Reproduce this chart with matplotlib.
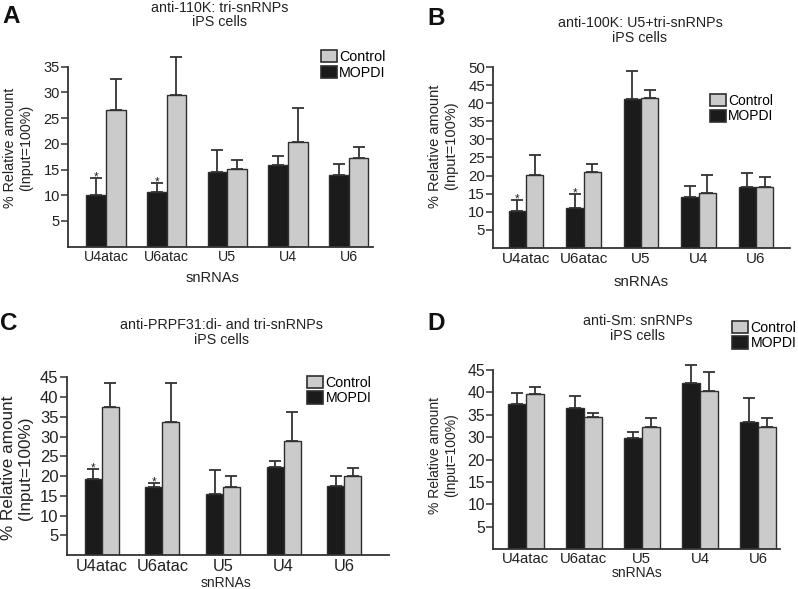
import numpy as np
import matplotlib
matplotlib.use("Agg")
import matplotlib.pyplot as plt
from matplotlib.patches import Patch

plt.rcParams['font.family'] = ['Liberation Sans', 'DejaVu Sans']

W, H = 798, 589

snrnas = ["U4atac", "U6atac", "U5", "U4", "U6"]

# A: anti-110K (values, then top of error bar)
a_mopdi = [10.0, 10.6, 14.6, 15.8, 13.9]
a_mopdi_top = [13.3, 12.3, 18.8, 17.7, 16.1]
a_control = [26.6, 29.5, 15.1, 20.3, 17.3]
a_control_top = [32.7, 36.9, 16.9, 26.9, 19.4]

# B: anti-100K
b_mopdi = [10.1, 11.0, 41.2, 14.1, 16.8]
b_mopdi_top = [13.1, 14.9, 48.9, 17.0, 20.8]
b_control = [20.2, 21.0, 41.4, 15.2, 16.8]
b_control_top = [25.6, 23.3, 43.8, 20.2, 19.7]

# C: anti-PRPF31
c_mopdi = [19.3, 17.1, 15.5, 22.3, 17.5]
c_mopdi_top = [21.7, 18.2, 21.5, 23.9, 20.0]
c_control = [37.6, 33.6, 17.1, 28.9, 20.0]
c_control_top = [43.6, 43.6, 20.0, 36.1, 22.1]

# D: anti-Sm (axis in the original has no 25 label)
d_mopdi = [37.5, 36.6, 29.9, 42.1, 33.5]
d_mopdi_top = [39.9, 39.1, 31.2, 46.1, 38.7]
d_control = [39.6, 34.6, 32.2, 40.4, 32.3]
d_control_top = [41.1, 35.4, 34.2, 44.6, 34.2]

significant = [0, 1]   # U4atac, U6atac marked with *

BLACK = "#1b1b1b"
GREY = "#cbcbcb"
EDGE = "#2e2e2e"
INK = "#333333"
TXT = "#222222"

fig = plt.figure(figsize=(W / 100, H / 100), dpi=100)


def rect(left, right, top, bottom):
    return [left / W, 1 - bottom / H, (right - left) / W, (bottom - top) / H]


def fx(x):
    return x / W


def fy(y):
    return 1 - y / H


def broken_fwd(v):
    v = np.asarray(v, dtype=float)
    return np.where(v <= 20, v, np.where(v < 25, 20, v - 5))


def broken_inv(p):
    p = np.asarray(p, dtype=float)
    return np.where(p <= 20, p, p + 5)


def panel(box, xlim, w, mopdi, mopdi_top, control, control_top, ymax, yticks,
          stars, legend_at, xtick_size, ytick_size, xpad, leg_size, broken=False):
    ax = fig.add_axes(rect(*box))
    x = np.arange(len(snrnas))
    if broken:
        ax.set_yscale('function', functions=(broken_fwd, broken_inv))
    ax.bar(x - w / 2, mopdi, w, color=BLACK, edgecolor=EDGE, linewidth=1, zorder=2)
    ax.bar(x + w / 2, control, w, color=GREY, edgecolor=EDGE, linewidth=1, zorder=2)
    for xs, vals, tops in [(x - w / 2, mopdi, mopdi_top), (x + w / 2, control, control_top)]:
        vals = np.array(vals)
        up = np.array(tops) - vals
        eb = ax.errorbar(xs, vals, yerr=[np.zeros_like(vals), up], fmt='none',
                         ecolor=INK, elinewidth=1.3, capsize=4.2, capthick=1.3, zorder=3)
        for art in eb.get_children():
            art.set_clip_on(False)
    if stars:
        for i in significant:
            ax.annotate("*", (x[i] - w / 2, mopdi_top[i]), xytext=(0, -1.5),
                        textcoords='offset points', ha='center', va='baseline',
                        fontsize=8.5, color=TXT, annotation_clip=False)
    ax.set_xlim(*xlim)
    ax.set_ylim(0, ymax)
    ax.set_yticks(yticks)
    ax.set_yticklabels([str(t) for t in yticks])
    ax.set_xticks(x)
    ax.set_xticklabels(snrnas)
    for s in ['top', 'right']:
        ax.spines[s].set_visible(False)
    for s in ['left', 'bottom']:
        ax.spines[s].set_color(INK)
        ax.spines[s].set_linewidth(1.3)
    ax.tick_params(axis='y', length=5, width=1.1, pad=1, colors=INK,
                   labelsize=ytick_size, labelcolor=TXT)
    ax.tick_params(axis='x', length=0, pad=xpad, labelsize=xtick_size,
                   labelcolor=TXT)
    handles = [Patch(facecolor=GREY, edgecolor=EDGE, linewidth=1.2),
               Patch(facecolor=BLACK, edgecolor=EDGE, linewidth=1.2)]
    ax.legend(handles, ["Control", "MOPDI"], loc='upper left',
              bbox_to_anchor=(fx(legend_at[0]), fy(legend_at[1])),
              bbox_transform=fig.transFigure, frameon=False, fontsize=leg_size,
              borderpad=0, borderaxespad=0, handlelength=1.15, handleheight=0.95,
              handletextpad=0.15, labelspacing=0.1)
    return ax


panel((68.3, 373, 66.7, 246.7), (-0.62, 4.4), 0.325,
      a_mopdi, a_mopdi_top, a_control, a_control_top,
      35, [5, 10, 15, 20, 25, 30, 35], True, (320.7, 50),
      xtick_size=10.2, ytick_size=10.5, xpad=2.7, leg_size=10.3)
panel((493.3, 790, 67.3, 247.7), (-0.57, 4.59), 0.30,
      b_mopdi, b_mopdi_top, b_control, b_control_top,
      50, [5, 10, 15, 20, 25, 30, 35, 40, 45, 50], True, (710, 94),
      xtick_size=11, ytick_size=10.8, xpad=3.2, leg_size=10)
panel((66.7, 389, 377.3, 555), (-0.58, 4.74), 0.28,
      c_mopdi, c_mopdi_top, c_control, c_control_top,
      45, [5, 10, 15, 20, 25, 30, 35, 40, 45], True, (307, 376),
      xtick_size=11.8, ytick_size=12, xpad=3, leg_size=10.2)
panel((493.3, 780, 370, 549.3), (-0.56, 4.38), 0.31,
      d_mopdi, d_mopdi_top, d_control, d_control_top,
      45, [5, 10, 15, 20, 30, 35, 40, 45], False, (732, 321),
      xtick_size=10.7, ytick_size=11.3, xpad=2, leg_size=10.2, broken=True)

# titles
titles = [("anti-110K: tri-snRNPs\niPS cells", 220, 15),
          ("anti-100K: U5+tri-snRNPs\niPS cells", 640, 30.3),
          ("anti-PRPF31:di- and tri-snRNPs\niPS cells", 221, 332.5),
          ("anti-Sm: snRNPs\niPS cells", 637.5, 328.3)]
for txt, tx, ty in titles:
    fig.text(fx(tx), fy(ty), txt, ha='center', va='center', fontsize=10.3,
             color=TXT, linespacing=1.05)

# y labels
ylab = "% Relative amount\n(Input=100%)"
for tx, ty, size in [(18, 148, 10.3), (443, 146, 10.5), (17, 468, 12.3), (443, 455, 10)]:
    fig.text(fx(tx), fy(ty), ylab, rotation=90, ha='center', va='center',
             multialignment='center', fontsize=size, color=TXT, linespacing=1.2)

# x labels
for tx, ty, size in [(213, 278, 10.5), (641, 282, 10.8), (226, 583, 10), (637, 573, 10)]:
    fig.text(fx(tx), fy(ty), "snRNAs", ha='center', va='center', fontsize=size,
             color=TXT)

# panel letters
for letter, tx, ty in [("A", 2, 5), ("B", 427, 7), ("C", 0, 312), ("D", 427, 312)]:
    fig.text(fx(tx), fy(ty), letter, ha='left', va='top', fontsize=17.5,
             fontweight='bold', color='#111111')

fig.savefig("out.png", dpi=100)
